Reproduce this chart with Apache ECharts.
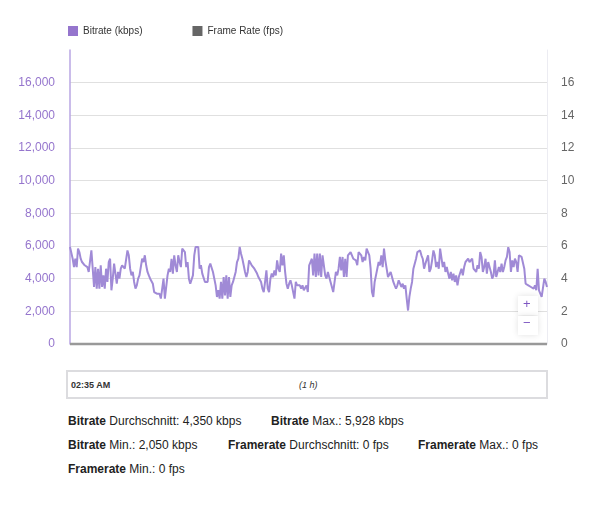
<!DOCTYPE html>
<html>
<head>
<meta charset="utf-8">
<script src="https://cdn.jsdelivr.net/npm/echarts@6/dist/echarts.min.js"></script>
<style>
  html, body { margin: 0; padding: 0; background: #fff; }
  body { width: 616px; height: 512px; position: relative; overflow: hidden; font-family: "Liberation Sans", Arial, sans-serif; }
  #chart { position: absolute; left: 0; top: 0; width: 616px; height: 360px; }
  #range { position: absolute; left: 66px; top: 370px; width: 478px; height: 25px; border: 2px solid #dcdcdf; font-size: 9px; color: #333; }
  #range .start { position: absolute; left: 3px; top: 8px; font-weight: bold; }
  #range .dur { position: absolute; left: 231px; top: 8px; font-style: italic; }
  .stat { position: absolute; font-size: 12px; color: #222; white-space: nowrap; }
  .stat b { font-weight: bold; }
</style>
</head>
<body>
<div id="chart"></div>
<div id="range"><span class="start"></span><span class="dur"></span></div>
<div id="stats"></div>
<script>
// ---- data ----
const seriesNames = ['Bitrate (kbps)', 'Frame Rate (fps)'];
const bitrate = [
5940,5880,5220,4710,5220,4710,5840,5630,5220,5020,5120,4820,4920,4710,4410,4310,5730,5630,3490,4710,3390,4610,3390,4820,3490,4200,3390,4610,3800,5020,5220,3290,4000,4920,4310,3690,4410,4000,4610,4820,4710,4610,4610,5730,5430,4610,4200,4410,3800,3390,3590,4000,4200,4100,5220,5020,5430,4820,4410,4200,4000,3900,3690,3180,3290,3080,2980,3080,2780,2670,4000,2780,2880,4200,4610,4410,5220,4310,5430,4820,4410,5430,5020,4710,5840,5940,5630,4710,5020,4000,3690,
3590,4200,5430,5940,5940,5940,4610,4820,4310,4410,3800,3690,3800,4710,4920,4820,4410,4000,3590,2880,3290,2780,3800,2780,4100,2980,4200,2780,4100,2880,3590,3800,3800,4410,5020,5220,5940,5530,5220,4820,4410,4100,4410,5120,5020,4820,4710,4610,4510,4310,4100,4000,3800,3390,3180,3800,4510,3390,3180,4000,4310,4100,4510,4200,5120,4610,4410,5530,4820,5430,4410,3690,3390,3690,3900,3590,3490,2780,3800,3590,3690,3590,3390,3590,3290,3180,3590,3180,4820,5020,
5220,4200,5530,4100,5530,4200,5530,4100,5430,4820,4200,4000,4410,4100,3800,3900,3180,3290,4410,4200,4610,5330,4510,5330,4100,5220,4100,5430,5330,5630,5530,5220,5330,5120,4820,5630,5730,5430,5020,5330,5120,5840,5840,5430,4610,3180,2880,3800,4200,4100,5020,4820,5430,4710,5840,5120,4610,4100,4000,4410,4100,3800,3590,3390,3590,3900,3800,3490,3690,3390,3590,2780,2050,2880,3390,3800,4610,4710,5220,5630,5730,5730,5430,5220,4610,4920,4820,5430,4410,4610,
5120,5730,5430,4710,5020,4610,5840,5730,4710,5020,4410,4710,4310,4000,4410,3900,4310,3800,4200,3590,4100,4000,4610,4200,4710,5020,4920,5220,5020,5120,5220,4610,4710,4410,4820,4610,5630,5330,4410,4710,5220,4310,5020,5120,4410,4000,4200,5120,4100,4410,4710,4410,4920,4410,4710,5120,5330,5928,5630,4410,5120,4710,5220,5020,4410,5430,5530,5330,5430,4610,3690,3800,3590,3690,3490,3590,3390,3590,3290,4610,3290,3180,2880,2780,4000,3800,3490
];
const frameRate = bitrate.map(() => 0);
const leftTicks = [0, 2000, 4000, 6000, 8000, 10000, 12000, 14000, 16000, 18000];
const rightTicks = [0, 2, 4, 6, 8, 10, 12, 14, 16, 18];
const startLabel = '02:35 AM';
const durationLabel = '(1 h)';
const stats = [
  ['Bitrate', ' Durchschnitt: 4,350 kbps'],
  ['Bitrate', ' Max.: 5,928 kbps'],
  ['Bitrate', ' Min.: 2,050 kbps'],
  ['Framerate', ' Durchschnitt: 0 fps'],
  ['Framerate', ' Max.: 0 fps'],
  ['Framerate', ' Min.: 0 fps']
];
// category labels: time steps across one hour starting 02:35
const categories = bitrate.map((_, i) => {
  const s = 2 * 3600 + 35 * 60 + Math.round(i * 3600 / (bitrate.length - 1));
  const h = Math.floor(s / 3600), m = Math.floor((s % 3600) / 60), sec = s % 60;
  return [h, m, sec].map(v => String(v).padStart(2, '0')).join(':');
});

// ---- html parts ----
document.querySelector('#range .start').textContent = startLabel;
document.querySelector('#range .dur').textContent = durationLabel;
const statPos = [[68, 414], [271, 414], [68, 438], [228, 438], [418, 438], [68, 462]];
const statsEl = document.getElementById('stats');
stats.forEach((s, i) => {
  const d = document.createElement('div');
  d.className = 'stat';
  d.style.left = statPos[i][0] + 'px';
  d.style.top = statPos[i][1] + 'px';
  const b = document.createElement('b');
  b.textContent = s[0];
  d.appendChild(b);
  d.appendChild(document.createTextNode(s[1]));
  statsEl.appendChild(d);
});

// ---- chart ----
const purple = '#9575cd';
const chart = echarts.init(document.getElementById('chart'), null, { renderer: 'canvas' });
chart.setOption({
  animation: false,
  textStyle: { fontFamily: '"Liberation Sans", Arial, sans-serif' },
  legend: {
    left: 63, top: 21, icon: 'rect', itemWidth: 10, itemHeight: 10, itemGap: 50,
    textStyle: { fontSize: 10, color: '#333' },
    data: [
      { name: seriesNames[0], itemStyle: { color: purple } },
      { name: seriesNames[1], itemStyle: { color: '#666' } }
    ]
  },
  grid: { left: 70, right: 69, top: 50, bottom: 16, containLabel: false },
  xAxis: {
    type: 'category', data: categories, boundaryGap: false,
    axisLine: { show: false }, axisTick: { show: false }, axisLabel: { show: false },
    splitLine: { show: false }
  },
  yAxis: [
    {
      type: 'value', min: leftTicks[0], max: leftTicks[leftTicks.length - 1], interval: leftTicks[1] - leftTicks[0],
      axisLine: { show: true, lineStyle: { color: '#b9a6e3', width: 1.5 } },
      axisTick: { show: false },
      axisLabel: { color: purple, fontSize: 12, margin: 15, showMaxLabel: false,
        formatter: v => v.toLocaleString('en-US') },
      splitLine: { show: true, showMaxLine: false, lineStyle: { color: '#e0e0e0', width: 1 } }
    },
    {
      type: 'value', min: rightTicks[0], max: rightTicks[rightTicks.length - 1], interval: rightTicks[1] - rightTicks[0],
      position: 'right',
      axisLine: { show: true, lineStyle: { color: '#ececf2', width: 1 } },
      axisTick: { show: false },
      axisLabel: { color: '#666', fontSize: 12, margin: 14, showMaxLabel: false },
      splitLine: { show: false }
    }
  ],
  series: [
    {
      name: seriesNames[0], type: 'line', data: bitrate, yAxisIndex: 0,
      showSymbol: false, symbol: 'none', smooth: false,
      lineStyle: { color: '#a08ad6', width: 2 }, itemStyle: { color: purple }, z: 3
    },
    {
      name: seriesNames[1], type: 'line', data: frameRate, yAxisIndex: 1,
      showSymbol: false, symbol: 'none', clip: false,
      lineStyle: { color: '#999', width: 2.5 }, itemStyle: { color: '#666' }, z: 4
    }
  ],
  graphic: [
    { type: 'rect', left: 518, top: 296, shape: { width: 20, height: 19 },
      style: { fill: '#fff', shadowBlur: 6, shadowColor: 'rgba(0,0,0,0.12)' }, z: 10 },
    { type: 'rect', left: 518, top: 316, shape: { width: 20, height: 19 },
      style: { fill: '#fff', shadowBlur: 6, shadowColor: 'rgba(0,0,0,0.12)' }, z: 10 },
    { type: 'text', left: 523, top: 298, style: { text: '+', fill: '#7e57c2', fontSize: 13, fontFamily: 'Liberation Sans' }, z: 11 },
    { type: 'text', left: 523, top: 317, style: { text: '−', fill: '#7e57c2', fontSize: 13, fontFamily: 'Liberation Sans' }, z: 11 }
  ]
});
</script>
</body>
</html>
